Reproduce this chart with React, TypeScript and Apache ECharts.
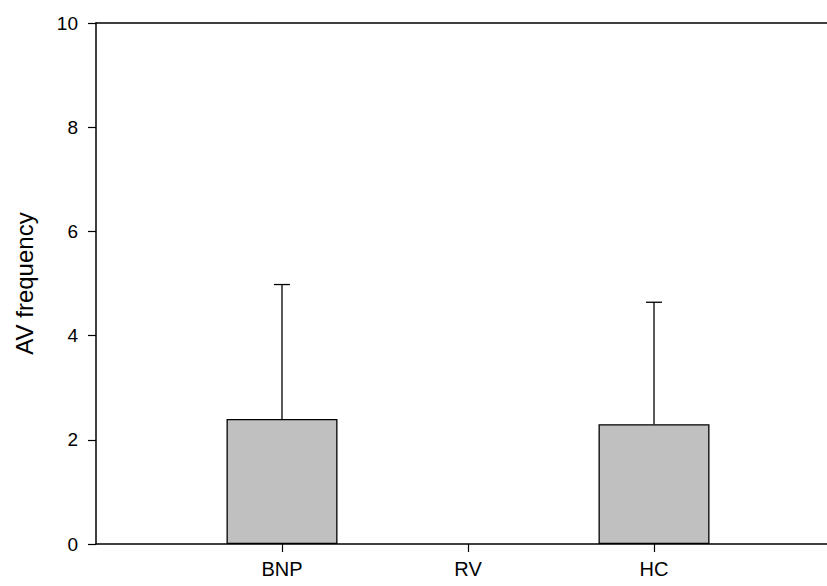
import React, { useEffect, useRef } from "react";
import * as echarts from "echarts";

const categories = ["", "BNP", "RV", "HC", ""];
const means = [null, 2.4, 0, 2.3, null];
const upperErrors = [null, 2.58, 0, 2.34, null];
const yTicks = { min: 0, max: 10, interval: 2 };

const FONT = "Liberation Sans, Arial, sans-serif";

export default function App() {
  const ref = useRef<HTMLDivElement>(null);
  useEffect(() => {
    if (!ref.current) return;
    const chart = echarts.init(ref.current, null, { renderer: "svg" });
    const errData = means
      .map((m, i) => (m === null || !upperErrors[i] ? null : [i, m, m + (upperErrors[i] as number)]))
      .filter((d) => d !== null);
    const barData = means.map((m) =>
      m === 0 ? { value: m, itemStyle: { borderWidth: 0, opacity: 0 } } : m
    );
    chart.setOption({
      animation: false,
      backgroundColor: "#ffffff",
      grid: { left: 96, right: 20, top: 23, bottom: 42, containLabel: false },
      xAxis: [
        {
          type: "category",
          data: categories,
          boundaryGap: false,
          axisLine: { lineStyle: { color: "#000", width: 1.5 } },
          axisTick: {
            show: true,
            length: 8,
            inside: false,
            interval: (i: number) => categories[i] !== "",
            lineStyle: { color: "#000", width: 1.2 },
          },
          axisLabel: {
            interval: 0,
            color: "#000",
            fontFamily: FONT,
            fontSize: 20,
            margin: 15,
          },
          splitLine: { show: false },
        },
        {
          type: "category",
          data: categories,
          position: "top",
          boundaryGap: false,
          axisLine: { show: true, onZero: false, lineStyle: { color: "#000", width: 1.5 } },
          axisTick: { show: false },
          axisLabel: { show: false },
          splitLine: { show: false },
        },
      ],
      yAxis: {
        type: "value",
        min: yTicks.min,
        max: yTicks.max,
        interval: yTicks.interval,
        name: "AV frequency",
        nameLocation: "middle",
        nameGap: 60,
        nameTextStyle: { color: "#000", fontFamily: FONT, fontSize: 24 },
        axisLine: { show: true, lineStyle: { color: "#000", width: 1.5 } },
        axisTick: { show: true, length: 8, inside: false, lineStyle: { color: "#000", width: 1.2 } },
        axisLabel: { color: "#000", fontFamily: FONT, fontSize: 19, margin: 18 },
        splitLine: { show: false },
      },
      series: [
        {
          type: "bar",
          data: barData,
          barWidth: 111,
          itemStyle: { color: "#c0c0c0", borderColor: "#000", borderWidth: 1.3 },
          z: 2,
        },
        {
          type: "custom",
          data: errData,
          z: 3,
          renderItem: (params: any, api: any) => {
            const x = api.value(0);
            const lo = api.coord([x, api.value(1)]);
            const hi = api.coord([x, api.value(2)]);
            const half = 8;
            return {
              type: "group",
              children: [
                {
                  type: "line",
                  shape: { x1: lo[0], y1: lo[1], x2: hi[0], y2: hi[1] },
                  style: { stroke: "#000", lineWidth: 1.3 },
                },
                {
                  type: "line",
                  shape: { x1: hi[0] - half, y1: hi[1], x2: hi[0] + half, y2: hi[1] },
                  style: { stroke: "#000", lineWidth: 1.3 },
                },
              ],
            };
          },
        },
      ],
    });
    return () => chart.dispose();
  }, []);
  return (
    <div
      style={{
        position: "fixed",
        left: 0,
        top: 0,
        width: 827,
        height: 586,
        overflow: "hidden",
        background: "#fff",
      }}
    >
      <div ref={ref} style={{ width: 860, height: 586 }} />
    </div>
  );
}
